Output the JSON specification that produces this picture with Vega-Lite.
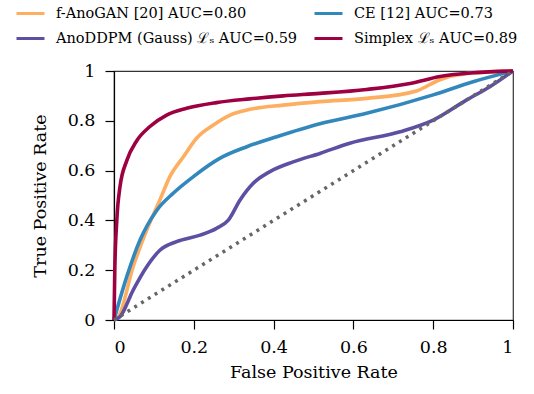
{
  "$schema": "https://vega.github.io/schema/vega-lite/v6.json",
  "width": 399,
  "height": 249,
  "autosize": {"type": "none"},
  "padding": {"left": 114, "top": 71, "right": 21, "bottom": 74},
  "background": "white",
  "config": {
    "font": "DejaVu Serif",
    "view": {"stroke": "#333", "strokeWidth": 1.2},
    "axis": {"grid": false, "domainColor": "black", "tickColor": "black", "labelFont": "DejaVu Serif", "titleFont": "DejaVu Serif", "labelColor": "black", "titleColor": "black", "labelFontSize": 17.5, "titleFontSize": 17.5, "titleFontWeight": "normal", "tickSize": 9, "domainWidth": 1.2, "tickWidth": 1.2}
  },
  "datasets": {
    "curves": [
      {"model": "f-AnoGAN", "x": 0, "y": 0},
      {"model": "f-AnoGAN", "x": 0.011, "y": 0.013},
      {"model": "f-AnoGAN", "x": 0.048, "y": 0.214},
      {"model": "f-AnoGAN", "x": 0.082, "y": 0.361},
      {"model": "f-AnoGAN", "x": 0.115, "y": 0.482},
      {"model": "f-AnoGAN", "x": 0.14, "y": 0.576},
      {"model": "f-AnoGAN", "x": 0.174, "y": 0.656},
      {"model": "f-AnoGAN", "x": 0.207, "y": 0.73},
      {"model": "f-AnoGAN", "x": 0.249, "y": 0.783},
      {"model": "f-AnoGAN", "x": 0.291, "y": 0.823},
      {"model": "f-AnoGAN", "x": 0.341, "y": 0.846},
      {"model": "f-AnoGAN", "x": 0.424, "y": 0.863},
      {"model": "f-AnoGAN", "x": 0.516, "y": 0.877},
      {"model": "f-AnoGAN", "x": 0.633, "y": 0.89},
      {"model": "f-AnoGAN", "x": 0.758, "y": 0.92},
      {"model": "f-AnoGAN", "x": 0.817, "y": 0.965},
      {"model": "f-AnoGAN", "x": 0.884, "y": 0.99},
      {"model": "f-AnoGAN", "x": 1, "y": 1},
      {"model": "CE", "x": 0, "y": 0},
      {"model": "CE", "x": 0.007, "y": 0.04},
      {"model": "CE", "x": 0.032, "y": 0.174},
      {"model": "CE", "x": 0.065, "y": 0.32},
      {"model": "CE", "x": 0.107, "y": 0.44},
      {"model": "CE", "x": 0.149, "y": 0.51},
      {"model": "CE", "x": 0.199, "y": 0.576},
      {"model": "CE", "x": 0.266, "y": 0.65},
      {"model": "CE", "x": 0.333, "y": 0.696},
      {"model": "CE", "x": 0.408, "y": 0.736},
      {"model": "CE", "x": 0.516, "y": 0.788},
      {"model": "CE", "x": 0.633, "y": 0.83},
      {"model": "CE", "x": 0.8, "y": 0.904},
      {"model": "CE", "x": 0.9, "y": 0.957},
      {"model": "CE", "x": 1, "y": 1},
      {"model": "AnoDDPM", "x": 0, "y": 0},
      {"model": "AnoDDPM", "x": 0.015, "y": 0.013},
      {"model": "AnoDDPM", "x": 0.048, "y": 0.12},
      {"model": "AnoDDPM", "x": 0.082, "y": 0.214},
      {"model": "AnoDDPM", "x": 0.115, "y": 0.28},
      {"model": "AnoDDPM", "x": 0.157, "y": 0.315},
      {"model": "AnoDDPM", "x": 0.216, "y": 0.341},
      {"model": "AnoDDPM", "x": 0.257, "y": 0.368},
      {"model": "AnoDDPM", "x": 0.286, "y": 0.4},
      {"model": "AnoDDPM", "x": 0.316, "y": 0.482},
      {"model": "AnoDDPM", "x": 0.349, "y": 0.549},
      {"model": "AnoDDPM", "x": 0.391, "y": 0.596},
      {"model": "AnoDDPM", "x": 0.449, "y": 0.635},
      {"model": "AnoDDPM", "x": 0.516, "y": 0.669},
      {"model": "AnoDDPM", "x": 0.591, "y": 0.71},
      {"model": "AnoDDPM", "x": 0.717, "y": 0.756},
      {"model": "AnoDDPM", "x": 0.8, "y": 0.803},
      {"model": "AnoDDPM", "x": 0.884, "y": 0.884},
      {"model": "AnoDDPM", "x": 0.942, "y": 0.937},
      {"model": "AnoDDPM", "x": 1, "y": 1},
      {"model": "Simplex", "x": 0, "y": 0},
      {"model": "Simplex", "x": 0.002, "y": 0.2},
      {"model": "Simplex", "x": 0.007, "y": 0.4},
      {"model": "Simplex", "x": 0.015, "y": 0.535},
      {"model": "Simplex", "x": 0.032, "y": 0.64},
      {"model": "Simplex", "x": 0.057, "y": 0.72},
      {"model": "Simplex", "x": 0.09, "y": 0.777},
      {"model": "Simplex", "x": 0.132, "y": 0.823},
      {"model": "Simplex", "x": 0.182, "y": 0.85},
      {"model": "Simplex", "x": 0.257, "y": 0.873},
      {"model": "Simplex", "x": 0.34, "y": 0.888},
      {"model": "Simplex", "x": 0.424, "y": 0.9},
      {"model": "Simplex", "x": 0.516, "y": 0.91},
      {"model": "Simplex", "x": 0.633, "y": 0.926},
      {"model": "Simplex", "x": 0.742, "y": 0.95},
      {"model": "Simplex", "x": 0.817, "y": 0.978},
      {"model": "Simplex", "x": 0.9, "y": 0.993},
      {"model": "Simplex", "x": 1, "y": 1}
    ],
    "diag": [{"x": 0, "y": 0}, {"x": 1, "y": 1}]
  },
  "layer": [
    {
      "data": {"name": "curves"},
      "mark": {"type": "line", "strokeWidth": 3.6, "interpolate": "monotone", "clip": false},
      "encoding": {
        "x": {"field": "x", "type": "quantitative", "scale": {"domain": [0, 1], "nice": false, "zero": false},
              "axis": {"title": "False Positive Rate", "values": [0, 0.2, 0.4, 0.6, 0.8, 1], "format": "~g", "labelPadding": 9, "titlePadding": 8}},
        "y": {"field": "y", "type": "quantitative", "scale": {"domain": [0, 1], "nice": false, "zero": false},
              "axis": {"title": "True Positive Rate", "values": [0, 0.2, 0.4, 0.6, 0.8, 1], "format": "~g", "labelPadding": 10, "titlePadding": 18}},
        "color": {
          "field": "model", "type": "nominal",
          "scale": {"domain": ["f-AnoGAN", "CE", "AnoDDPM", "Simplex"], "range": ["#fdae61", "#3288bd", "#5e4fa2", "#9e0142"]},
          "legend": {
            "title": null,
            "orient": "none",
            "legendX": -99,
            "legendY": -73,
            "columns": 2,
            "direction": "horizontal",
            "symbolType": "stroke",
            "symbolSize": 784,
            "symbolStrokeWidth": 3,
            "labelFont": "DejaVu Serif",
            "labelFontSize": 14.5,
            "labelColor": "black",
            "labelOffset": 10,
            "labelLimit": 400,
            "rowPadding": 3,
            "columnPadding": 10,
            "labelExpr": "datum.label == 'f-AnoGAN' ? 'f-AnoGAN [20] AUC=0.80' : datum.label == 'CE' ? 'CE [12] AUC=0.73' : datum.label == 'AnoDDPM' ? 'AnoDDPM (Gauss) ℒₛ AUC=0.59' : 'Simplex ℒₛ AUC=0.89'"
          }
        },
        "order": {"field": "x", "type": "quantitative"}
      }
    },
    {
      "data": {"name": "diag"},
      "mark": {"type": "line", "color": "#666666", "strokeWidth": 3.5, "strokeDash": [3, 5]},
      "encoding": {
        "x": {"field": "x", "type": "quantitative"},
        "y": {"field": "y", "type": "quantitative"}
      }
    }
  ]
}
